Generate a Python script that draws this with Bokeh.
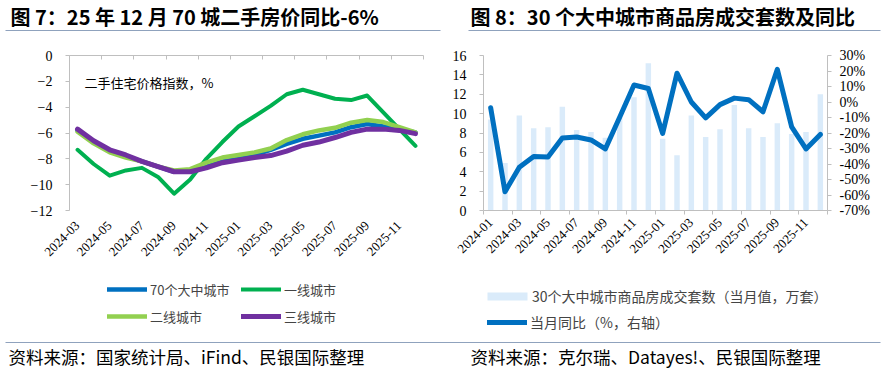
from math import pi
import numpy as np
from bokeh.plotting import figure
from bokeh.models import (Range1d, LinearAxis, FixedTicker, Label, Legend, LegendItem,
                          BoxAnnotation, PrintfTickFormatter, Grid)
from bokeh.layouts import row, column
from bokeh.embed import file_html
from bokeh.resources import INLINE

# ---------------- data ----------------
months_left = ["2024-03", "2024-04", "2024-05", "2024-06", "2024-07", "2024-08", "2024-09",
               "2024-10", "2024-11", "2024-12", "2025-01", "2025-02", "2025-03", "2025-04",
               "2025-05", "2025-06", "2025-07", "2025-08", "2025-09", "2025-10", "2025-11",
               "2025-12"]
city70 = [-5.8, -6.7, -7.4, -7.8, -8.2, -8.6, -9.0, -8.9, -8.6, -8.2, -8.0, -7.7, -7.3, -6.85,
          -6.45, -6.2, -5.95, -5.55, -5.3, -5.5, -5.7, -5.95]
tier1 = [-7.3, -8.4, -9.3, -8.9, -8.7, -9.4, -10.7, -9.6, -8.0, -6.7, -5.5, -4.7, -3.9, -3.0,
         -2.65, -3.0, -3.35, -3.45, -3.1, -4.4, -5.7, -7.0]
tier2 = [-5.9, -6.8, -7.5, -7.9, -8.2, -8.6, -8.9, -8.8, -8.3, -7.9, -7.7, -7.5, -7.2, -6.55,
         -6.1, -5.8, -5.6, -5.2, -5.0, -5.15, -5.55, -5.95]
tier3 = [-5.7, -6.6, -7.3, -7.7, -8.2, -8.6, -9.0, -9.0, -8.7, -8.3, -8.1, -7.9, -7.75, -7.4,
         -6.95, -6.7, -6.35, -5.95, -5.7, -5.7, -5.8, -6.05]

months_right = ["2024-01", "2024-02", "2024-03", "2024-04", "2024-05", "2024-06", "2024-07",
                "2024-08", "2024-09", "2024-10", "2024-11", "2024-12", "2025-01", "2025-02",
                "2025-03", "2025-04", "2025-05", "2025-06", "2025-07", "2025-08", "2025-09",
                "2025-10", "2025-11", "2025-12"]
sales = [9.4, 4.9, 9.8, 8.5, 8.6, 10.7, 8.3, 8.1, 7.5, 9.6, 11.7, 15.2, 7.4, 5.7, 9.8, 7.6,
         8.4, 10.9, 8.5, 7.6, 9.0, 7.9, 8.1, 12.0]
yoy = [-3.7, -57.9, -42.1, -35.1, -35.5, -23.2, -22.6, -24.5, -30.3, -9.8, 11.0, 8.7, -20.3,
       18.6, 0.0, -10.2, -1.7, 2.5, 1.5, -6.3, 21.1, -16.1, -30.3, -20.9]

left_ticks = [0, -2, -4, -6, -8, -10, -12]
right_ticks = [0, 2, 4, 6, 8, 10, 12, 14, 16]
pct_ticks = [30, 20, 10, 0, -10, -20, -30, -40, -50, -60, -70]

# ---------------- style ----------------
CJK = "Noto Sans CJK SC"
SERIF = "Liberation Serif"
AXIS_GRAY = "#BFBFBF"
RULE = "#8FA2BD"
C70 = "#0070C0"
C1 = "#00B050"
C2 = "#92D050"
C3 = "#7030A0"
BAR = "#DAEBFA"


def label(p, x, y, text, size, bold=False, font=CJK):
    p.add_layout(Label(x=x, y=y, x_units="screen", y_units="screen", text=text,
                       text_font=font, text_font_size=size,
                       text_font_style="bold" if bold else "normal",
                       text_baseline="middle", text_align="left", text_color="black"))


def rule(p, x0, x1, y):
    p.add_layout(BoxAnnotation(left=x0, right=x1, bottom=y - 0.5, top=y + 0.5,
                               left_units="screen", right_units="screen",
                               top_units="screen", bottom_units="screen",
                               fill_color=RULE, fill_alpha=1, line_color=None))


def base_fig(w, h, xr, yr, ml, mr, mt, mb):
    p = figure(width=w, height=h, x_range=xr, y_range=yr, x_axis_location=None,
               y_axis_location=None, output_backend="svg", toolbar_location=None,
               min_border_left=ml, min_border_right=mr, min_border_top=mt,
               min_border_bottom=mb, title=None)
    p.outline_line_color = None
    p.background_fill_color = "white"
    p.border_fill_color = "white"
    for g in p.center:
        if isinstance(g, Grid):
            g.visible = False
    return p


def y_axis(ticks, **kw):
    return LinearAxis(ticker=FixedTicker(ticks=ticks), axis_line_color=AXIS_GRAY,
                      major_tick_line_color=AXIS_GRAY, minor_tick_line_color=None,
                      major_tick_in=0, major_tick_out=4,
                      major_label_text_font=SERIF, major_label_text_font_size="14px",
                      major_label_text_color="black", **kw)


def cat_axis(months, pos, standoff, tick_in, tick_out, show_line):
    idx = list(range(0, len(months), 2))
    bounds = list(range(0, len(months) + 1, 2))
    return LinearAxis(ticker=FixedTicker(ticks=[float(pos[i]) for i in idx], minor_ticks=bounds),
                      major_label_overrides={float(pos[i]): months[i] for i in idx},
                      major_label_orientation=pi / 4,
                      axis_line_color=AXIS_GRAY if show_line else None,
                      major_tick_line_color=None, major_tick_in=0, major_tick_out=0,
                      minor_tick_line_color=AXIS_GRAY if show_line else None,
                      minor_tick_in=tick_in, minor_tick_out=tick_out,
                      major_label_standoff=standoff, major_label_text_font=SERIF,
                      major_label_text_font_size="13px", major_label_text_color="black")


def blank_fig(w, h):
    return base_fig(w, h, Range1d(0, w), Range1d(0, h), 0, 0, 0, 0)


# ---------------- header ----------------
W, HH, HC, HF = 883, 35, 237, 98
head = blank_fig(W, HH)
label(head, 10, 19, "图 7：25 年 12 月 70 城二手房价同比-6%", "20px", bold=True)
label(head, 470, 19, "图 8：30 个大中城市商品房成交套数及同比", "20px", bold=True)
rule(head, 5, 440, 5)
rule(head, 468, 880, 5)

# ---------------- left chart ----------------
n1 = len(months_left)
xl = np.arange(n1) + 0.5
p1 = base_fig(445, HC, Range1d(0, n1), Range1d(-12, 0), 69, 22, 20, 62)
p1.add_layout(y_axis(left_ticks, major_label_standoff=13), "left")
top_ax = LinearAxis(ticker=FixedTicker(ticks=[], minor_ticks=list(range(0, n1 + 1, 2))),
                    axis_line_color=AXIS_GRAY, major_tick_line_color=None,
                    minor_tick_line_color=AXIS_GRAY, minor_tick_in=4, minor_tick_out=0,
                    major_tick_in=0, major_tick_out=0)
p1.add_layout(top_ax, "above")
p1.add_layout(cat_axis(months_left, xl, 13, 0, 0, False), "below")

kw = dict(line_join="round", line_cap="round")
st70 = dict(line_color=C70, line_width=4.5, **kw)
st1 = dict(line_color=C1, line_width=4, **kw)
st2 = dict(line_color=C2, line_width=4.5, **kw)
st3 = dict(line_color=C3, line_width=5, **kw)
stl = dict(line_color=C70, line_width=5, **kw)
p1.line(xl, city70, **st70)
p1.line(xl, tier1, **st1)
p1.line(xl, tier2, **st2)
p1.line(xl, tier3, **st3)
label(p1, 15, 128, "二手住宅价格指数，%", "13px")

# ---------------- right chart ----------------
n2 = len(months_right)
xr = np.arange(n2) + 0.5
p2 = base_fig(438, HC, Range1d(0, n2), Range1d(0, 16), 38, 56, 13, 48)
p2.extra_y_ranges = {"pct": Range1d(-70, 30)}
p2.add_layout(y_axis(right_ticks, major_label_standoff=13), "left")
p2.add_layout(y_axis(pct_ticks, y_range_name="pct", major_label_standoff=8,
                     formatter=PrintfTickFormatter(format="%d%%")), "right")
p2.add_layout(cat_axis(months_right, xr, 6, 0, 4, True), "below")

p2.vbar(x=xr, top=sales, width=0.38, bottom=0, fill_color=BAR, line_color=None)
p2.line(xr, yoy, y_range_name="pct", **stl)

# ---------------- footer: legends + sources ----------------
# legend keys: same series, hidden (they only feed the legend swatches)
foot = blank_fig(W, HF)
f70 = foot.line(xl, city70, visible=False, **st70)
f1 = foot.line(xl, tier1, visible=False, **st1)
f2 = foot.line(xl, tier2, visible=False, **st2)
f3 = foot.line(xl, tier3, visible=False, **st3)
fb = foot.vbar(x=xr, top=sales, width=0.38, fill_color=BAR, line_color=None, visible=False)
fl = foot.line(xr, yoy, visible=False, **stl)

common = dict(padding=0, margin=0, label_height=20, label_text_font=CJK,
              border_line_color=None, background_fill_alpha=0, inactive_fill_alpha=0,
              click_policy="none")
legA = Legend(items=[LegendItem(label="70个大中城市", renderers=[f70]),
                     LegendItem(label="二线城市", renderers=[f2])],
              location=(107, 44), glyph_width=40, glyph_height=20, label_standoff=3,
              spacing=7, label_text_font_size="13px", **common)
legB = Legend(items=[LegendItem(label="一线城市", renderers=[f1]),
                     LegendItem(label="三线城市", renderers=[f3])],
              location=(241, 44), glyph_width=40, glyph_height=20, label_standoff=3,
              spacing=7, label_text_font_size="13px", **common)
leg_b = Legend(items=[LegendItem(label="30个大中城市商品房成交套数（当月值，万套）", renderers=[fb])],
               location=(482, 64), glyph_width=50, glyph_height=10, label_standoff=0,
               label_text_font_size="14px", **common)
leg_l = Legend(items=[LegendItem(label="当月同比（%，右轴）", renderers=[fl])],
               location=(487, 38), glyph_width=40, glyph_height=20, label_standoff=3,
               label_text_font_size="14px", **common)
for lg in (legA, legB, leg_b, leg_l):
    foot.add_layout(lg)

rule(foot, 5, 880, 28)
label(foot, 8, 14, "资料来源：国家统计局、iFind、民银国际整理", "17.5px")
label(foot, 470, 14, "资料来源：克尔瑞、Datayes!、民银国际整理", "17.5px")

layout = column(head, row(p1, p2, spacing=0), foot, spacing=0)
open("out.html", "w").write(file_html(layout, INLINE))
